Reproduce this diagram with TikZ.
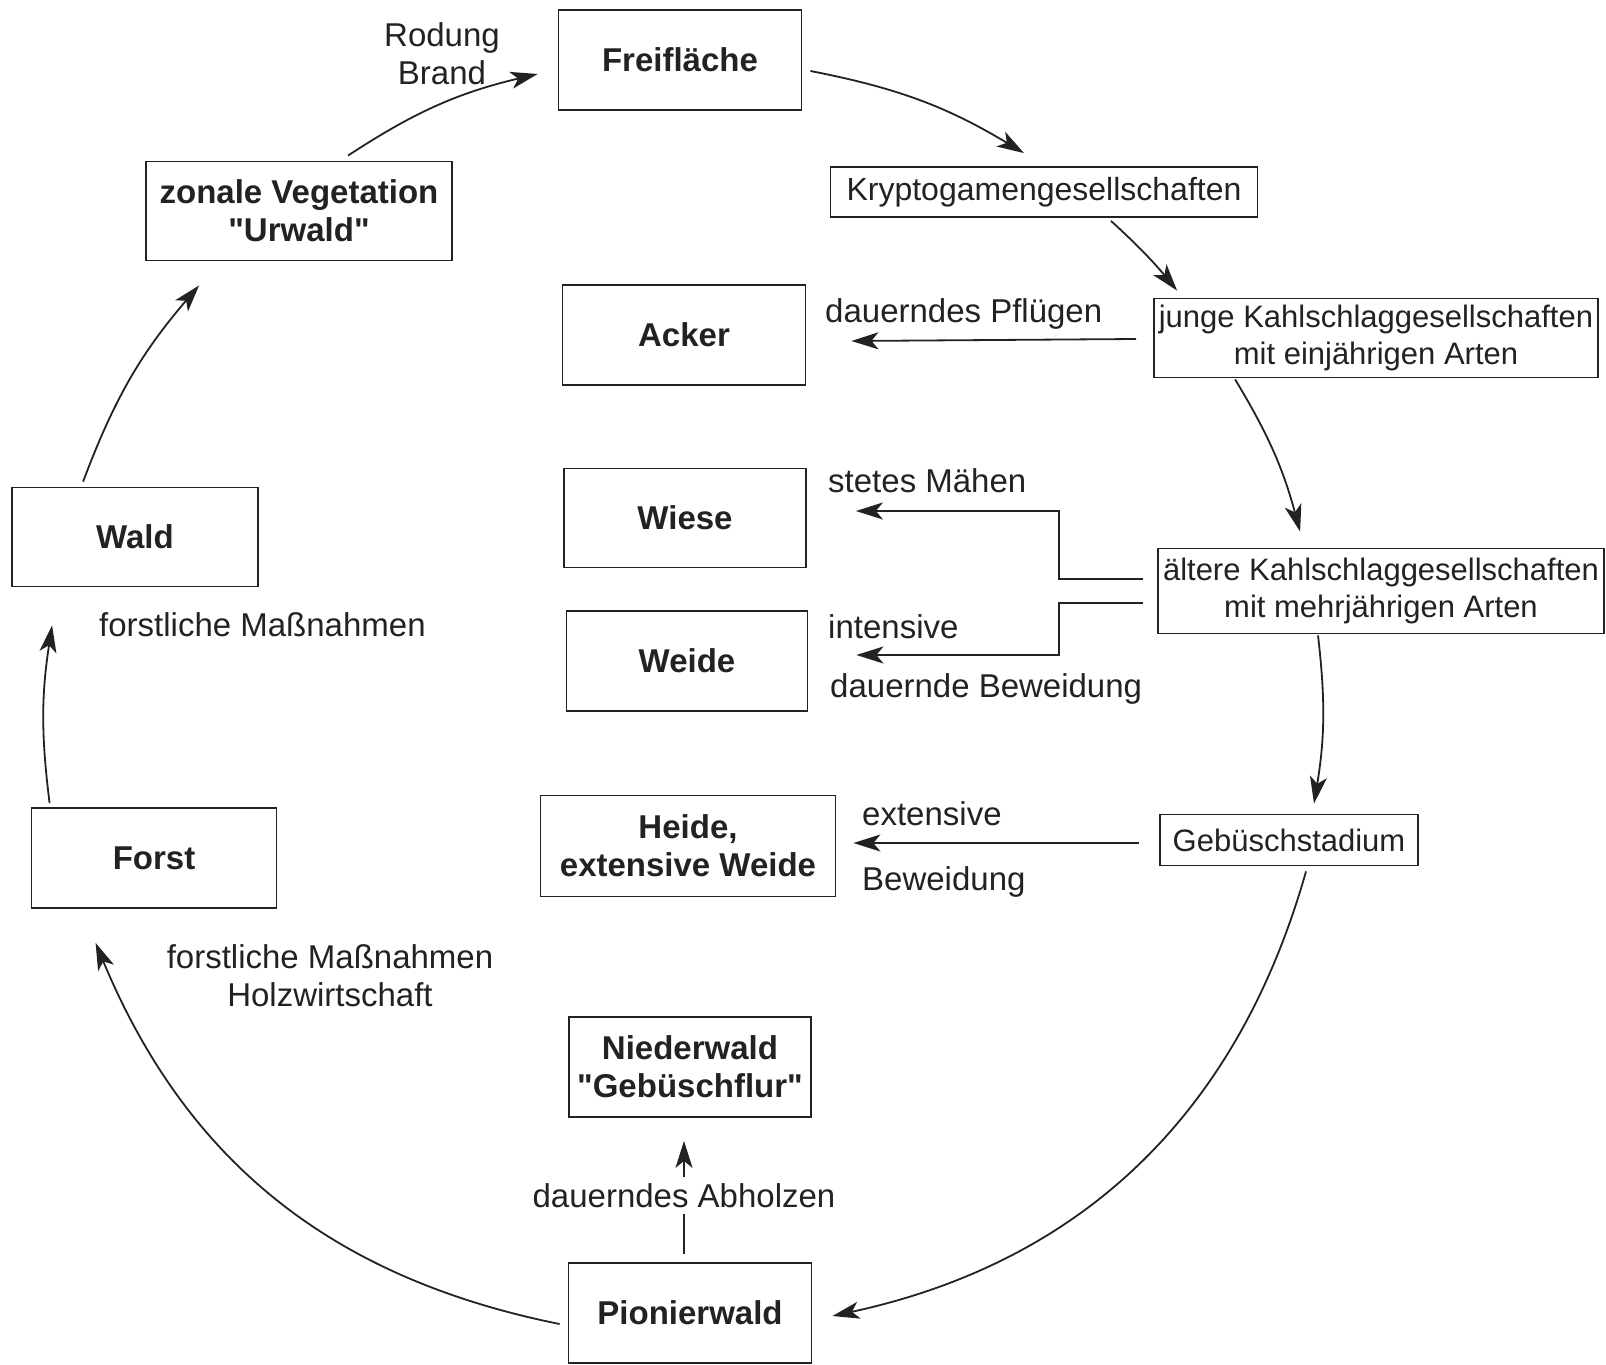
\documentclass[tikz,border=0pt]{standalone}
\usepackage{fontspec}
\setmainfont{Liberation Sans}[Ligatures=TeXOff]
\usetikzlibrary{arrows.meta,calc}
\definecolor{ink}{HTML}{222222}
\begin{document}
\begin{tikzpicture}[x=1pt,y=1pt,
  every node/.style={font=\fontsize{33}{38}\selectfont, text=ink},
  box/.style={draw=ink, line width=1.8pt, inner sep=0pt, align=center, font=\fontsize{31}{37}\selectfont},
  bbox/.style={draw=ink, line width=1.8pt, inner sep=0pt, align=center, font=\fontsize{33}{38}\selectfont\bfseries},
  lbl/.style={inner sep=0pt, align=center},
  ln/.style={draw=ink, line width=1.8pt},
  arr/.style={ln, -{Stealth[length=27pt,width=17pt,inset=7pt]}}
]
\useasboundingbox (0,0) rectangle (1606,-1365);

% boxes
\node[bbox, minimum width=243, minimum height=100] (frei) at (680,-60) {Freifläche};
\node[box, minimum width=427, minimum height=50, font=\fontsize{32}{37}\selectfont] (krypto) at (1044,-192) {Kryptogamengesellschaften};
\node[box, minimum width=444, minimum height=79] (junge) at (1376,-338) {junge Kahlschlaggesellschaften\\mit einjährigen Arten};
\node[bbox, minimum width=243, minimum height=100] (acker) at (684,-335) {Acker};
\node[bbox, minimum width=242, minimum height=99] (wiese) at (685,-518) {Wiese};
\node[bbox, minimum width=241, minimum height=100] (weide) at (687,-661) {Weide};
\node[box, minimum width=446, minimum height=85] (aelter) at (1381,-591) {ältere Kahlschlaggesellschaften\\mit mehrjährigen Arten};
\node[box, minimum width=258, minimum height=51] (gebusch) at (1289,-840) {Gebüschstadium};
\node[bbox, minimum width=295, minimum height=101] (heide) at (688,-846) {Heide,\\extensive Weide};
\node[bbox, minimum width=242, minimum height=100] (nieder) at (690,-1067) {Niederwald\\"Gebüschflur"};
\node[bbox, minimum width=243, minimum height=100] (pionier) at (690,-1313) {Pionierwald};
\node[bbox, minimum width=245, minimum height=100] (forst) at (154,-858) {Forst};
\node[bbox, minimum width=246, minimum height=99] (wald) at (135,-537) {Wald};
\node[bbox, minimum width=306, minimum height=99] (urwald) at (299,-211) {zonale Vegetation\\"Urwald"};

% labels
\node[lbl] (rodung) at (442,-54) {Rodung\\Brand};
\node[lbl, anchor=base west] (pflug) at (825,-322) {dauerndes Pflügen};
\node[lbl, anchor=base west] (maehen) at (828,-492) {stetes Mähen};
\node[lbl, anchor=base west] (intens) at (828,-638) {intensive};
\node[lbl, anchor=base west] (dbew) at (830,-697) {dauernde Beweidung};
\node[lbl, anchor=base west] (extens) at (862,-825) {extensive};
\node[lbl, anchor=base west] (bew) at (862,-890) {Beweidung};
\node[lbl, anchor=base west] (forstla) at (99,-636) {forstliche Maßnahmen};
\node[lbl] (forstlb) at (330,-976) {forstliche Maßnahmen\\Holzwirtschaft};
\node[lbl, inner ysep=6pt, anchor=base] (abholz) at (684,-1207) {dauerndes Abholzen};

% cycle arcs
\draw[arr] ($(urwald.north)+(49,5)$) to[bend left=10] ($(frei.west)+(-20,-14)$);
\draw[arr] ($(frei.east)+(8,-11)$) to[bend left=10] ($(krypto.north)+(-20,13)$);
\draw[arr] ($(krypto.south)+(67,-3)$) to[bend left=4] ($(junge.north west)+(24,7)$);
\draw[arr] ($(junge.south west)+(82,-1)$) to[bend left=8] ($(aelter.north west)+(143,16)$);
\draw[arr] ($(aelter.south)+(-63,-1)$) to[bend left=8] ($(gebusch.north)+(25,10)$);
\draw[arr] ($(gebusch.south)+(17,-5)$) to[bend left=31] ($(pionier.east)+(20,-3)$);
\draw[arr] ($(pionier.west)+(-8,-11)$) to[bend left=28] ($(forst.south west)+(65,-34)$);
\draw[arr] ($(forst.north west)+(19,4)$) to[bend left=8] ($(wald.south west)+(41,-38)$);
\draw[arr] ($(wald.north west)+(72,5)$) to[bend left=10] ($(urwald.south west)+(54,-24)$);

% side branches
\draw[arr] ($(junge.west)+(-17,-1)$) -- ($(acker.east)+(45,-6)$);
\draw[arr] ($(aelter.west)+(-14,12)$) -- ++(-84,0) |- ($(wiese.east)+(49,7)$);
\draw[arr] ($(aelter.west)+(-14,-12)$) -- ++(-84,0) |- ($(weide.east)+(48,6)$);
\draw[arr] ($(gebusch.west)+(-20,-3)$) -- ($(heide.east)+(17,3)$);
\draw[ln] ($(pionier.north)+(-6,8)$) -- (abholz.south);
\draw[arr] (abholz.north) -- ($(nieder.south)+(-6,-23)$);
\end{tikzpicture}
\end{document}
